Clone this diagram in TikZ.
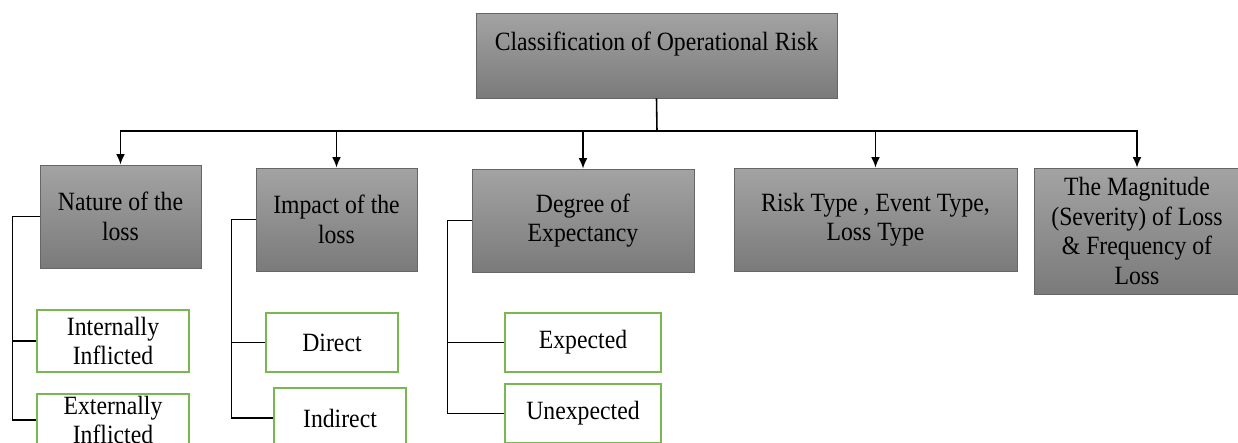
\documentclass[tikz,border=0pt]{standalone}
\usepackage{fontspec}
\setmainfont[FakeStretch=0.9]{Liberation Serif}
\usetikzlibrary{arrows.meta}

\begin{document}
\begin{tikzpicture}[x=0.02cm, y=-0.02cm,
    font=\fontsize{15}{16.8}\selectfont,
    graybox/.style={rectangle, draw=black!60, line width=0.4pt, top color=black!36, bottom color=black!52, align=center, inner sep=0pt},
    subbox/.style={rectangle, draw={rgb,255:red,122;green,182;blue,82}, line width=0.6pt, fill=white, align=center, inner sep=0pt},
    link/.style={line width=0.9pt, black},
    down/.style={link, -{Latex[length=6pt, width=5pt]}}]
    \useasboundingbox (0,0) rectangle (1238,443);
    % main box
    \node[graybox, minimum width=7.22cm, minimum height=1.70cm] (R) at (656.5,55.5) {Classification of Operational Risk\\\mbox{}};
    \coordinate (bus) at (657,131);
    % first level
    \node[graybox, minimum width=3.22cm, minimum height=2.06cm] (N) at (120.5,216.5) {Nature of the\\loss};
    \node[graybox, minimum width=3.22cm, minimum height=2.06cm] (I) at (336.5,219.5) {Impact of the\\loss};
    \node[graybox, minimum width=4.44cm, minimum height=2.06cm] (D) at (583,220.5) {Degree of\\Expectancy};
    \node[graybox, minimum width=5.66cm, minimum height=2.06cm] (T) at (875.5,219.5) {Risk Type , Event Type,\\Loss Type};
    \node[graybox, minimum width=4.10cm, minimum height=2.52cm] (M) at (1137,231) {The Magnitude\\(Severity) of Loss\\\& Frequency of\\Loss};
    \draw[link] (R.south) -- (bus);
    \draw[down] (bus) -| (N.north);
    \draw[down] (bus) -| (I.north);
    \draw[down] (bus) -| (D.north);
    \draw[down] (bus) -| (T.north);
    \draw[down] (bus) -| (M.north);
    % second level
    \node[subbox, minimum width=3.04cm, minimum height=1.24cm] (N1) at (113,341) {Internally\\Inflicted};
    \node[subbox, minimum width=3.04cm, minimum height=1.04cm] (N2) at (113,420) {Externally\\Inflicted};
    \node[subbox, minimum width=2.64cm, minimum height=1.18cm] (I1) at (332,342.5) {Direct};
    \node[subbox, minimum width=2.64cm, minimum height=1.20cm] (I2) at (340,418) {Indirect};
    \node[subbox, minimum width=3.12cm, minimum height=1.18cm] (D1) at (583,342.5) {Expected};
    \node[subbox, minimum width=3.12cm, minimum height=1.18cm] (D2) at (583,413.5) {Unexpected};
    \draw[link] (N.west) -- ++(-27,0) |- (N1.west);
    \draw[link] (N.west) -- ++(-27,0) |- (N2.west);
    \draw[link] (I.west) -- ++(-24,0) |- (I1.west);
    \draw[link] (I.west) -- ++(-24,0) |- (I2.west);
    \draw[link] (D.west) -- ++(-24,0) |- (D1.west);
    \draw[link] (D.west) -- ++(-24,0) |- (D2.west);
\end{tikzpicture}
\end{document}
